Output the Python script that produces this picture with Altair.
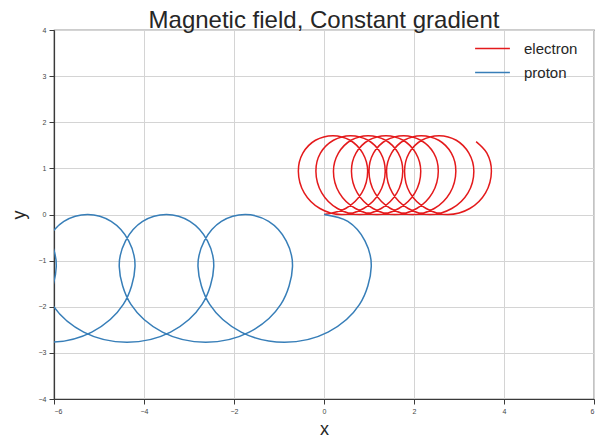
import altair as alt
import pandas as pd

# ---- data ----
series = ["electron", "proton"]
colors = ["#e41a1c", "#377eb8"]

electron_x = [0.00, 0.48, 0.84, 0.97,
              0.86, 0.58, 0.20, -0.19, -0.47, -0.57,
              -0.44, -0.09, 0.39, 0.88, 1.23, 1.36,
              1.26, 0.98, 0.59, 0.21, -0.08, -0.18,
              -0.05, 0.30, 0.79, 1.27, 1.62, 1.75,
              1.65, 1.37, 0.98, 0.60, 0.32, 0.21,
              0.34, 0.70, 1.18, 1.66, 2.02, 2.15,
              2.04, 1.76, 1.38, 0.99, 0.71, 0.61,
              0.74, 1.09, 1.57, 2.06, 2.41, 2.54,
              2.44, 2.15, 1.77, 1.38, 1.10, 1.00,
              1.13, 1.48, 1.97, 2.45, 2.80, 2.93,
              2.83, 2.55, 2.16, 1.78, 1.50, 1.39,
              1.52, 1.87, 2.36, 2.84, 3.20, 3.33,
              3.22, 2.94, 2.56, 2.17, 1.89, 1.79,
              1.91, 2.27, 2.75, 3.24, 3.59, 3.72,
              3.62, 3.38]
electron_y = [0.00, 0.13, 0.47, 0.94,
              1.33, 1.61, 1.71, 1.61, 1.33, 0.94,
              0.47, 0.13, 0.00, 0.13, 0.47, 0.94,
              1.33, 1.61, 1.71, 1.61, 1.33, 0.94,
              0.47, 0.13, 0.00, 0.13, 0.47, 0.94,
              1.33, 1.61, 1.71, 1.61, 1.33, 0.94,
              0.47, 0.13, 0.00, 0.13, 0.47, 0.94,
              1.33, 1.61, 1.71, 1.61, 1.33, 0.94,
              0.47, 0.13, 0.00, 0.13, 0.47, 0.94,
              1.33, 1.61, 1.71, 1.61, 1.33, 0.94,
              0.47, 0.13, 0.00, 0.13, 0.47, 0.94,
              1.33, 1.61, 1.71, 1.61, 1.33, 0.94,
              0.47, 0.13, 0.00, 0.13, 0.47, 0.94,
              1.33, 1.61, 1.71, 1.61, 1.33, 0.94,
              0.47, 0.13, 0.00, 0.13, 0.47, 0.94,
              1.33, 1.58]

proton_x = [0.00, 0.53, 0.91, 1.05,
            0.79, 0.09, -0.88, -1.84, -2.54, -2.80,
            -2.66, -2.28, -1.75, -1.23, -0.84, -0.70,
            -0.96, -1.66, -2.63, -3.59, -4.29, -4.55,
            -4.41, -4.03, -3.50, -2.98, -2.59, -2.45,
            -2.71, -3.41, -4.38, -5.34, -6.04, -6.30,
            -6.16, -5.78, -5.25, -4.73, -4.34, -4.20,
            -4.46, -5.16, -6.13, -7.09, -7.79, -8.05,
            -7.91, -7.53, -7.00, -6.48, -6.09, -5.95,
            -6.21, -6.91, -7.88]
proton_y = [0.00, -0.15, -0.57, -1.13,
            -1.95, -2.55, -2.77, -2.55, -1.95, -1.13,
            -0.57, -0.15, 0.00, -0.15, -0.57, -1.13,
            -1.95, -2.55, -2.77, -2.55, -1.95, -1.13,
            -0.57, -0.15, 0.00, -0.15, -0.57, -1.13,
            -1.95, -2.55, -2.77, -2.55, -1.95, -1.13,
            -0.57, -0.15, 0.00, -0.15, -0.57, -1.13,
            -1.95, -2.55, -2.77, -2.55, -1.95, -1.13,
            -0.57, -0.15, 0.00, -0.15, -0.57, -1.13,
            -1.95, -2.55, -2.77]

x_ticks = [-6, -4, -2, 0, 2, 4, 6]
y_ticks = [-4, -3, -2, -1, 0, 1, 2, 3, 4]

rows = []
for name, xs, ys in [("electron", electron_x, electron_y), ("proton", proton_x, proton_y)]:
    for i, (xv, yv) in enumerate(zip(xs, ys)):
        rows.append({"particle": name, "x": xv, "y": yv, "i": i})
df = pd.DataFrame(rows)

FONT = "Liberation Sans"

chart = alt.Chart(df).mark_line(
    interpolate="catmull-rom", clip=True, strokeWidth=1.5
).encode(
    x=alt.X("x:Q", scale=alt.Scale(domain=[-6, 6], nice=False, zero=False),
            axis=alt.Axis(values=x_ticks, title="x", titlePadding=6)),
    y=alt.Y("y:Q", scale=alt.Scale(domain=[-4, 4], nice=False, zero=False),
            axis=alt.Axis(values=y_ticks, title="y", titlePadding=10)),
    color=alt.Color("particle:N", scale=alt.Scale(domain=series, range=colors),
                    legend=alt.Legend(title=None, orient="none", legendX=423, legendY=3,
                                      symbolType="M-1.2,0H1.2", symbolSize=841,
                                      symbolStrokeWidth=1.5, labelFontSize=15,
                                      labelFont=FONT, labelColor="#262626",
                                      labelOffset=16, rowPadding=0)),
    order=alt.Order("i:Q"),
).properties(
    width=540, height=369,
    title=alt.TitleParams("Magnetic field, Constant gradient", fontSize=24, font=FONT,
                          fontWeight="normal", color="#262626", anchor="middle",
                          baseline="alphabetic", offset=0, dy=26),
    autosize=alt.AutoSizeParams(type="none"),
    padding={"left": 54, "top": 30, "right": 10, "bottom": 40},
).configure_view(
    stroke="#3a3a3a", strokeWidth=1.2
).configure_axis(
    labelFontSize=7, labelFont=FONT, labelColor="#444444", labelPadding=3,
    tickColor="#3a3a3a", tickSize=5, tickWidth=1,
    domainColor="#3a3a3a", domainWidth=1.2,
    gridColor="#d4d4d4", gridWidth=1,
    titleFontSize=18, titleFont=FONT, titleFontWeight="normal", titleColor="#262626",
)

chart.save("out.html", embed_options={"renderer": "svg", "actions": False})
